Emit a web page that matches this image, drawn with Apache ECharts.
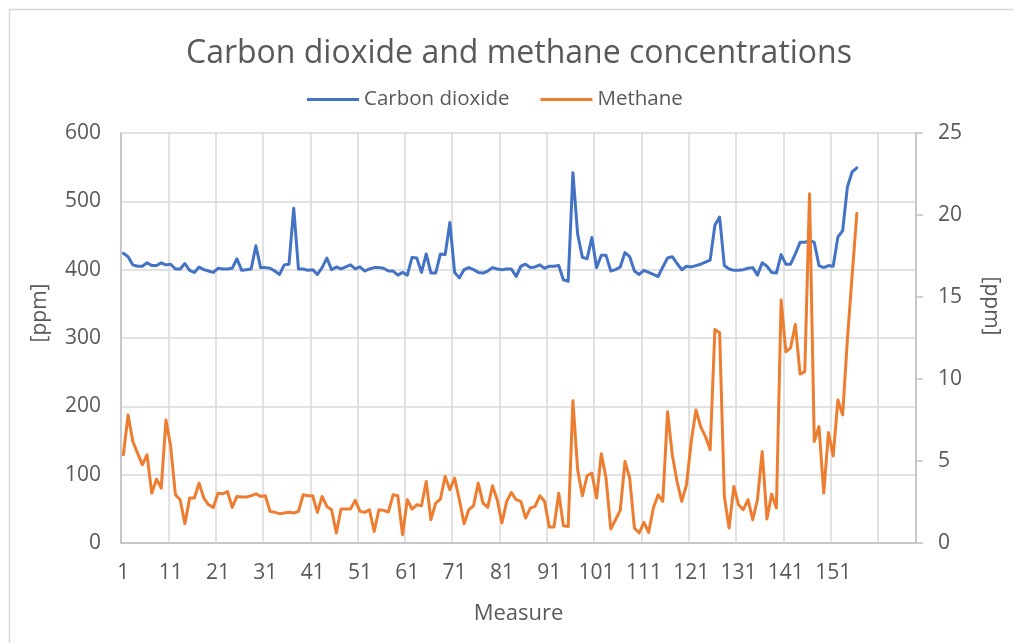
<!DOCTYPE html>
<html>
<head>
<meta charset="utf-8">
<script src="https://cdn.jsdelivr.net/npm/echarts@6/dist/echarts.min.js"></script>
<style>
  html, body { margin: 0; padding: 0; background: #ffffff; }
  #chart { width: 1014px; height: 643px; }
</style>
</head>
<body>
<div id="chart"></div>
<script>
// Carbon dioxide readings per measure [ppm], left axis
const carbonDioxide = [
  424, 419, 407, 405, 405, 410, 406, 406, 410, 407,
  408, 401, 401, 409, 399, 396, 404, 400, 398, 396,
  402, 401, 401, 402, 416, 399, 400, 401, 435, 403,
  403, 402, 398, 393, 407, 408, 490, 401, 401, 399,
  400, 393, 403, 417, 400, 404, 401, 404, 407, 401,
  404, 398, 401, 403, 403, 402, 398, 398, 392, 396,
  392, 418, 417, 396, 423, 395, 395, 423, 422, 469,
  396, 388, 400, 403, 400, 396, 395, 398, 403, 401,
  400, 401, 401, 390, 405, 408, 403, 404, 407, 402,
  405, 405, 406, 385, 383, 542, 452, 418, 416, 447,
  403, 421, 421, 398, 400, 404, 425, 419, 398, 393,
  399, 396, 393, 390, 404, 417, 419, 409, 400, 405,
  404, 406, 408, 411, 414, 465, 477, 406, 401, 399,
  399, 400, 402, 403, 392, 410, 405, 396, 395, 422,
  408, 408, 423, 440, 440, 443, 440, 406, 403, 406,
  405, 448, 457, 521, 543, 549
];

// Methane readings per measure [ppm], right axis
const methane = [
  5.38, 7.81, 6.19, 5.48, 4.77, 5.38, 3.04, 3.89, 3.35, 7.5,
  5.88, 2.94, 2.64, 1.18, 2.74, 2.74, 3.65, 2.74, 2.33, 2.17,
  3.04, 3.0, 3.14, 2.17, 2.84, 2.8, 2.8, 2.88, 3.0, 2.84,
  2.88, 1.93, 1.87, 1.79, 1.83, 1.87, 1.83, 1.93, 2.94, 2.88,
  2.88, 1.87, 2.84, 2.23, 2.03, 0.61, 2.07, 2.07, 2.07, 2.6,
  1.93, 1.87, 2.03, 0.71, 2.03, 1.99, 1.89, 2.94, 2.88, 0.51,
  2.64, 2.07, 2.33, 2.27, 3.75, 1.42, 2.43, 2.68, 4.06, 3.25,
  3.96, 2.64, 1.18, 2.03, 2.27, 3.65, 2.43, 2.17, 3.49, 2.64,
  1.22, 2.54, 3.08, 2.64, 2.54, 1.52, 2.13, 2.23, 2.88, 2.54,
  0.97, 0.97, 3.04, 1.05, 1.01, 8.68, 4.46, 2.88, 4.1, 4.26,
  2.74, 5.44, 3.96, 0.85, 1.42, 1.99, 4.97, 3.96, 0.91, 0.61,
  1.26, 0.65, 2.13, 2.94, 2.54, 8.01, 5.38, 3.75, 2.54, 3.55,
  6.19, 8.11, 7.1, 6.49, 5.68, 13.02, 12.82, 2.84, 0.91, 3.45,
  2.33, 2.03, 2.64, 1.42, 2.64, 5.58, 1.46, 2.98, 2.13, 14.81,
  11.66, 11.9, 13.33, 10.3, 10.45, 21.3, 6.19, 7.1, 3.04, 6.73,
  5.31, 8.72, 7.81, 12.4, 16.3, 20.1
];

// The sheet range has 168 rows; rows after the last measure are empty
const rowCount = 168;
const measures = Array.from({ length: rowCount }, (_, i) =>
  i < carbonDioxide.length ? String(i + 1) : '');

const leftTicks = { min: 0, max: 600, interval: 100 };
const rightTicks = { min: 0, max: 25, interval: 5 };

const FONT = '"Open Sans", "Noto Sans", sans-serif';
const TEXT = '#595959';

const chart = echarts.init(document.getElementById('chart'), null, { renderer: 'canvas' });

chart.setOption({
  animation: false,
  backgroundColor: '#ffffff',
  textStyle: { fontFamily: FONT, color: TEXT },
  title: {
    text: 'Carbon dioxide and methane concentrations',
    left: 181,
    top: 33,
    textStyle: { fontFamily: FONT, fontSize: 32, fontWeight: 'normal', color: TEXT }
  },
  legend: {
    top: 84,
    left: 302,
    itemWidth: 52,
    itemHeight: 3,
    itemGap: 31,
    icon: 'rect',
    textStyle: { fontFamily: FONT, fontSize: 20.5, color: TEXT },
    data: ['Carbon dioxide', 'Methane']
  },
  grid: { left: 121, right: 98, top: 133, bottom: 100, containLabel: false },
  xAxis: {
    type: 'category',
    data: measures,
    boundaryGap: true,
    name: 'Measure',
    nameLocation: 'middle',
    nameGap: 60,
    nameTextStyle: { fontFamily: FONT, fontSize: 22, color: TEXT },
    axisLine: { show: true, lineStyle: { color: '#bfbfbf', width: 1.5 } },
    axisTick: { show: false, interval: 9 },
    axisLabel: { interval: 9, margin: 20, fontFamily: FONT, fontSize: 21, color: TEXT },
    splitLine: { show: true, interval: 9, lineStyle: { color: '#d9d9d9', width: 1.5 } }
  },
  yAxis: [
    {
      type: 'value',
      min: leftTicks.min, max: leftTicks.max, interval: leftTicks.interval,
      position: 'left',
      axisLine: { show: true, lineStyle: { color: '#bfbfbf', width: 1.5 } },
      axisTick: { show: false },
      axisLabel: { margin: 20, fontFamily: FONT, fontSize: 21, color: TEXT },
      splitLine: { show: true, lineStyle: { color: '#d9d9d9', width: 1.5 } }
    },
    {
      type: 'value',
      min: rightTicks.min, max: rightTicks.max, interval: rightTicks.interval,
      position: 'right',
      axisLine: { show: true, lineStyle: { color: '#bfbfbf', width: 1.5 } },
      axisTick: { show: true, inside: false, length: 7, lineStyle: { color: '#bfbfbf', width: 1.5 } },
      axisLabel: { margin: 22, fontFamily: FONT, fontSize: 21, color: TEXT },
      splitLine: { show: false }
    }
  ],
  series: [
    {
      name: 'Carbon dioxide',
      type: 'line',
      yAxisIndex: 0,
      data: carbonDioxide,
      showSymbol: false,
      symbol: 'none',
      color: '#4472c4',
      lineStyle: { color: '#4472c4', width: 3, cap: 'round', join: 'round' },
      z: 3
    },
    {
      name: 'Methane',
      type: 'line',
      yAxisIndex: 1,
      data: methane,
      showSymbol: false,
      symbol: 'none',
      color: '#ed7d31',
      lineStyle: { color: '#ed7d31', width: 3, cap: 'round', join: 'round' },
      z: 4
    }
  ],
  graphic: [
    {
      type: 'rect',
      shape: { x: 9.5, y: 9.5, width: 1010, height: 640 },
      style: { fill: 'none', stroke: '#d9d9d9', lineWidth: 1.5 },
      silent: true
    },
    {
      type: 'text',
      x: 40, y: 313,
      rotation: Math.PI / 2,
      style: {
        text: '[ppm]', fontFamily: FONT, fontSize: 21, fill: TEXT,
        align: 'center', verticalAlign: 'middle'
      }
    },
    {
      type: 'text',
      x: 991, y: 306,
      rotation: -Math.PI / 2,
      style: {
        text: '[ppm]', fontFamily: FONT, fontSize: 21, fill: TEXT,
        align: 'center', verticalAlign: 'middle'
      }
    }
  ]
});
</script>
</body>
</html>
